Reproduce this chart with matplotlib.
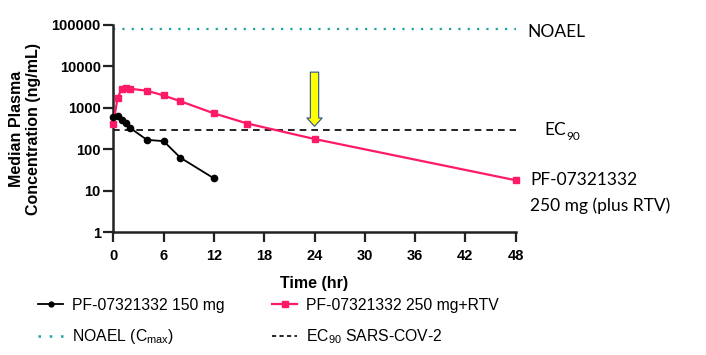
import matplotlib
matplotlib.use("Agg")
import matplotlib.pyplot as plt
from matplotlib.lines import Line2D

plt.rcParams["font.family"] = ["Liberation Sans", "DejaVu Sans"]
plt.rcParams["mathtext.fontset"] = "custom"
plt.rcParams["mathtext.rm"] = "Liberation Sans"
plt.rcParams["mathtext.default"] = "rm"

# PF-07321332 150 mg (black)
t_150 = [0, 0.5, 1, 1.5, 2, 4, 6, 8, 12]
conc_150 = [600, 640, 520, 440, 330, 170, 158, 63, 20]

# PF-07321332 250 mg + RTV (pink)
t_250 = [0, 0.5, 1, 1.5, 2, 4, 6, 8, 12, 16, 24, 48]
conc_250 = [420, 1700, 2900, 3100, 2900, 2600, 2000, 1450, 740, 420, 178, 18]

noael = 80000
ec90 = 292
arrow_time = 24
arrow_top, arrow_tip = 7300, 360

x_ticks = [0, 6, 12, 18, 24, 30, 36, 42, 48]
y_ticks = [1, 10, 100, 1000, 10000, 100000]
y_tick_labels = ["1", "10", "100", "1000", "10000", "100000"]

pink = "#ff1a66"
teal = "#1fa3a0"

fig = plt.figure(figsize=(7.06, 3.55), dpi=100)
ax = fig.add_axes([0.1605, 0.3456, 0.57, 0.584])

ax.axhline(noael, color=teal, lw=1.6, ls=(0, (1, 3.2)))
ax.axhline(ec90, color="black", lw=1.2, ls=(0, (4, 3)))

ax.plot(t_250, conc_250, color=pink, lw=1.6, marker="s", ms=5, clip_on=False, zorder=4)
ax.plot(t_150, conc_150, color="black", lw=1.3, marker="o", ms=4.5, clip_on=False, zorder=5)

ax.annotate("", xy=(arrow_time, arrow_tip), xytext=(arrow_time, arrow_top),
            arrowprops=dict(arrowstyle="simple,head_length=0.6,head_width=1.1,tail_width=0.6",
                            fc="#ffff00", ec="#2f4f8f", lw=0.8, shrinkA=0, shrinkB=0,
                            mutation_scale=10),
            zorder=6)

ax.set_yscale("log")
ax.set_xlim(0, 48)
ax.set_ylim(1, 100000)
ax.set_xticks(x_ticks)
ax.set_xticklabels([str(x) for x in x_ticks], fontweight="bold", fontsize=10.5)
ax.set_yticks(y_ticks)
ax.set_yticklabels(y_tick_labels, fontweight="bold", fontsize=10.5)
ax.minorticks_off()
ax.tick_params(axis="both", length=7, width=1.6, color="#222222")
ax.tick_params(axis="x", pad=5)
ax.tick_params(axis="y", pad=2)
for side in ["top", "right"]:
    ax.spines[side].set_visible(False)
for side in ["left", "bottom"]:
    ax.spines[side].set_linewidth(1.8)
    ax.spines[side].set_color("#222222")

ax.set_xlabel("Time (hr)", fontweight="bold", fontsize=11.5)
ax.xaxis.set_label_coords(0.5, -0.21)
ax.set_ylabel("Median Plasma\nConcentration (ng/mL)", fontweight="bold", fontsize=11.5,
              linespacing=1.15)
ax.yaxis.set_label_coords(-0.18, 0.5)

# annotations on the right
side_font = dict(family=["Lato", "DejaVu Sans"], fontsize=12.5, va="center", ha="left")
fig.text(527 / 706, 1 - 32 / 355, "NOAEL", **side_font)
ec = fig.text(544 / 706, 1 - 130 / 355, "EC", **side_font)
fig.canvas.draw()
bb = ec.get_window_extent()
fig.text(bb.x1 / 706 + 0.001, 1 - 137 / 355, "90", family=["Lato", "DejaVu Sans"],
         fontsize=8.5, va="center", ha="left")
fig.text(530 / 706, 1 - 180 / 355, "PF-07321332", **side_font)
fig.text(530 / 706, 1 - 206 / 355, "250 mg (plus RTV)", **side_font)

# legend, two columns placed separately
h_150 = Line2D([], [], color="black", lw=1.3, marker="o", ms=3.5)
h_250 = Line2D([], [], color=pink, lw=1.6, marker="s", ms=4)
h_noael = Line2D([], [], color=teal, lw=1.8, ls=(0, (1, 3.5)))
h_ec90 = Line2D([], [], color="black", lw=1.2, ls=(0, (2.5, 2)))

leg_kw = dict(frameon=False, fontsize=11.3, handlelength=1.6, handletextpad=0.55,
              labelspacing=0.95, loc="center left", borderpad=0, borderaxespad=0)
leg1 = fig.legend([h_150, h_noael], ["PF-07321332 150 mg", "NOAEL (C$_{max}$)"],
                  bbox_to_anchor=(38 / 706, 1 - 322 / 355), **leg_kw)
leg2 = fig.legend([h_250, h_ec90], ["PF-07321332 250 mg+RTV", "EC$_{90}$ SARS-COV-2"],
                  bbox_to_anchor=(272 / 706, 1 - 322 / 355), **leg_kw)

fig.savefig("out.png", dpi=100)
